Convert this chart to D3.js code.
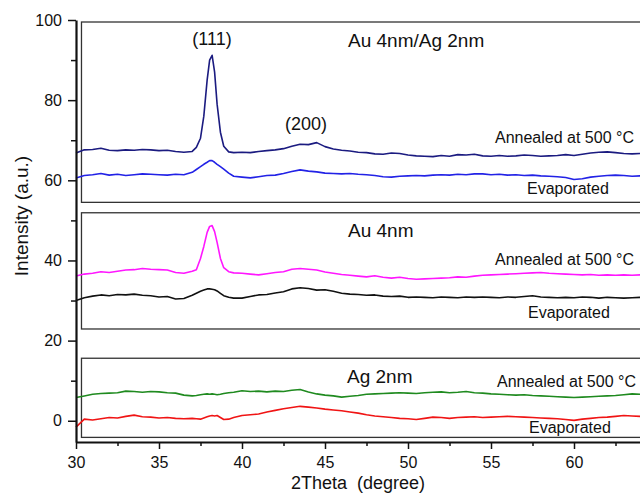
<html>
<head>
	<title>XRD</title>
	<meta charset="utf-8">
	<script src="https://d3js.org/d3.v7.min.js"></script>
	<style>
		body { margin: 0; background: #fff; }
		text { font-family: "Liberation Sans", Arial, sans-serif; fill: #111; }
	</style>
</head>
<body>
	<svg id="svg1" width="640" height="497"></svg>

	<script type="text/javascript">
		// 2Theta positions (degree), shared by all curves
		var theta = [30, 30.5, 31, 31.5, 32, 32.5, 33, 33.5, 34, 34.5, 35, 35.5, 36, 36.5, 37,
			37.25, 37.5, 37.7, 37.9, 38.05, 38.2, 38.35, 38.5, 38.7, 38.9, 39.2, 39.5,
			40, 40.5, 41, 41.5, 42, 42.5, 43, 43.5, 44, 44.5, 45, 45.5, 46, 46.5, 47, 47.5,
			48, 48.5, 49, 49.5, 50, 50.5, 51, 51.5, 52, 52.5, 53, 53.5, 54, 54.5, 55, 55.5,
			56, 56.5, 57, 57.5, 58, 58.5, 59, 59.5, 60, 60.5, 61, 61.5, 62, 62.5, 63, 63.5, 64]

		// Au 4nm/Ag 2nm
		var auagAnnealed = [66.8, 67.6, 67.7, 68.0, 67.5, 67.4, 67.6, 67.5, 67.7, 67.6, 67.4, 67.5, 67.2, 67.0, 67.2,
			68.2, 70.5, 76, 85, 90, 91.2, 87, 79, 72, 68.5, 67.1, 66.9,
			67.0, 66.9, 67.2, 67.4, 67.6, 67.9, 68.5, 69.0, 68.9, 69.4, 68.4, 67.8, 67.5, 67.3, 67.0, 66.9,
			66.6, 66.5, 66.8, 66.7, 66.3, 66.1, 66.0, 65.9, 66.2, 66.0, 66.4, 66.3, 66.5, 66.1, 66.0, 66.2,
			66.0, 66.1, 66.3, 66.2, 66.0, 66.1, 66.2, 66.4, 66.2, 66.5, 66.8, 67.0, 67.1, 66.9, 66.7, 66.6, 66.7]
		var auagEvap = [60.6, 61.2, 61.4, 61.7, 61.3, 61.5, 61.2, 61.4, 61.6, 61.5, 61.4, 61.3, 61.5, 61.4, 62.0,
			62.7, 63.4, 64.0, 64.5, 64.9, 64.9, 64.5, 64.0, 63.4, 62.8, 61.8, 61.0,
			60.8, 60.6, 60.9, 61.2, 61.3, 61.7, 62.2, 62.6, 62.3, 62.1, 61.8, 61.7, 61.6, 61.7, 61.5, 61.4,
			61.2, 60.9, 60.8, 61.0, 61.1, 61.2, 61.1, 61.3, 61.4, 61.3, 61.5, 61.4, 61.6, 61.6, 61.4, 61.5,
			61.3, 61.4, 61.2, 61.3, 61.1, 61.0, 60.9, 60.7, 60.2, 60.4, 60.8, 61.0, 61.2, 61.3, 61.2, 61.0, 61.1]

		// Au 4nm
		var auAnnealed = [36.1, 36.6, 36.8, 37.2, 37.0, 37.3, 37.6, 37.7, 38.0, 37.8, 37.7, 37.6, 37.0, 36.8, 37.3,
			37.7, 40.5, 43.5, 47, 48.5, 48.7, 47.2, 44.5, 40.5, 38.2, 37.2, 36.9,
			36.8, 36.6, 36.4, 36.7, 37.0, 37.2, 37.8, 38.0, 37.8, 37.6, 37.1, 36.8, 36.5, 36.3, 36.1, 35.9,
			36.2, 35.8, 35.6, 35.8, 35.5, 35.3, 35.4, 35.5, 35.6, 35.7, 35.9, 35.8, 36.1, 36.3, 36.4, 36.5,
			36.6, 36.7, 36.8, 36.9, 37.0, 36.8, 36.7, 36.6, 36.5, 36.4, 36.5, 36.3, 36.4, 36.3, 36.4, 36.3, 36.4]
		var auEvap = [30.0, 30.7, 31.1, 31.4, 31.2, 31.5, 31.4, 31.6, 31.3, 31.2, 30.9, 31.0, 30.4, 30.5, 31.3,
			31.8, 32.3, 32.6, 32.9, 32.9, 32.8, 32.7, 32.4, 31.8, 31.2, 30.8, 30.6,
			30.6, 31.0, 31.4, 31.5, 31.9, 32.2, 32.9, 33.2, 33.0, 32.6, 32.7, 32.3, 31.8, 31.6, 31.5, 31.3,
			31.4, 31.1, 31.0, 31.1, 30.8, 30.9, 30.8, 30.7, 30.9, 30.8, 30.7, 30.9, 30.8, 30.9, 30.8, 30.7,
			30.9, 30.8, 31.0, 31.2, 30.9, 30.8, 30.7, 30.8, 30.7, 30.9, 30.8, 30.6, 30.8, 30.7, 30.6, 30.7, 30.8]

		// Ag 2nm
		var agAnnealed = [5.8, 6.2, 6.6, 6.8, 6.9, 7.0, 7.4, 7.3, 7.1, 7.3, 7.2, 7.0, 6.9, 6.4, 6.2,
			6.3, 6.5, 6.6, 6.7, 6.6, 6.7, 6.6, 6.5, 6.6, 6.8, 7.0, 7.1,
			7.5, 7.3, 7.4, 7.2, 7.4, 7.3, 7.6, 7.8, 7.2, 6.7, 6.4, 6.2, 5.9, 6.1, 6.3, 6.6,
			6.7, 6.8, 6.9, 7.0, 6.9, 6.8, 7.0, 7.1, 7.2, 7.0, 7.1, 7.3, 7.0, 6.9, 6.7, 6.6,
			6.5, 6.4, 6.5, 6.3, 6.2, 6.1, 6.0, 5.9, 5.8, 5.9, 6.0, 6.1, 6.2, 6.3, 6.5, 6.7, 6.6]
		var agEvap = [-1.6, 0.4, 0.2, 0.5, 0.8, 0.7, 1.1, 1.4, 1.0, 0.9, 0.7, 0.8, 0.6, 0.5, 0.6,
			0.5, 0.4, 0.7, 1.0, 1.2, 1.3, 1.2, 1.3, 0.8, 0.3, 0.4, 0.8,
			1.3, 1.5, 1.7, 2.2, 2.6, 3.0, 3.3, 3.6, 3.4, 3.2, 2.9, 2.7, 2.5, 2.2, 1.9, 1.5,
			1.2, 1.0, 0.8, 0.6, 0.5, 0.3, 0.6, 0.9, 0.8, 0.6, 0.8, 0.9, 1.0, 0.8, 0.9, 1.0,
			1.1, 1.0, 0.9, 0.8, 0.7, 0.6, 0.5, 0.3, 0.1, 0.4, 0.6, 0.8, 0.9, 1.1, 1.3, 1.2, 1.1]

		var yTicks = [0, 20, 40, 60, 80, 100]
		var yMinor = [10, 30, 50, 70, 90]
		var xTicks = [30, 35, 40, 45, 50, 55, 60]
		var xMinor = [32.5, 37.5, 42.5, 47.5, 52.5, 57.5, 62.5]

		// panel frames: [top, bottom] in intensity units
		var frames = [[99.5, 54.5], [51.9, 22.9], [15.6, -4.15]]

		var curves = [
			{y: auagAnnealed, color: "#1b1b80"},
			{y: auagEvap, color: "#2222e6"},
			{y: auAnnealed, color: "#ff17ff"},
			{y: auEvap, color: "#111111"},
			{y: agAnnealed, color: "#1f8a1f"},
			{y: agEvap, color: "#f01414"}
		]

		var labels = [
			{t: "(111)", x: 212, y: 45, size: 18, anchor: "middle"},
			{t: "(200)", x: 306, y: 130, size: 18, anchor: "middle"},
			{t: "Au 4nm/Ag 2nm", x: 348, y: 47, size: 19, anchor: "start"},
			{t: "Au 4nm", x: 348, y: 237, size: 19, anchor: "start"},
			{t: "Ag 2nm", x: 347, y: 383, size: 19, anchor: "start"},
			{t: "Annealed at 500 °C", x: 495, y: 143, size: 16, anchor: "start"},
			{t: "Annealed at 500 °C", x: 495, y: 265, size: 16, anchor: "start"},
			{t: "Annealed at 500 °C", x: 497, y: 387, size: 16, anchor: "start"},
			{t: "Evaporated", x: 527, y: 194, size: 16, anchor: "start"},
			{t: "Evaporated", x: 528, y: 318, size: 16, anchor: "start"},
			{t: "Evaporated", x: 529, y: 433, size: 16, anchor: "start"}
		]

		var svg = d3.select("#svg1")
		var x = d3.scaleLinear().domain([30, 64]).range([76, 640.4])
		var y = d3.scaleLinear().domain([-5.3, 100]).range([442, 20])

		// frames
		svg.selectAll("rect.frame")
		  .data(frames)
		  .enter()
		  .append("rect")
			.attr("class", "frame")
			.attr("x", x(30.33))
			.attr("y", d => y(d[0]))
			.attr("width", x(65) - x(30.33))
			.attr("height", d => y(d[1]) - y(d[0]))
			.attr("fill", "none")
			.attr("stroke", "#333")
			.attr("stroke-width", 1.3)

		// curves
		var line = d3.line()
			.x((d, i) => x(theta[i]))
			.y(d => y(d))

		svg.selectAll("path.curve")
		  .data(curves)
		  .enter()
		  .append("path")
			.attr("class", "curve")
			.attr("d", d => line(d.y))
			.attr("fill", "none")
			.attr("stroke", d => d.color)
			.attr("stroke-width", 1.6)
			.attr("stroke-linejoin", "round")

		// axes
		var yAxis = svg.append("g")
			.attr("transform", "translate(76,0)")
			.call(d3.axisLeft(y).tickValues(yTicks).tickSize(8).tickSizeOuter(0).tickPadding(6))
		svg.append("g")
			.attr("transform", "translate(76,0)")
			.call(d3.axisLeft(y).tickValues(yMinor).tickSize(5).tickFormat("").tickSizeOuter(0))
			.select(".domain").remove()

		var xAxis = svg.append("g")
			.attr("transform", "translate(0,442)")
			.call(d3.axisBottom(x).tickValues(xTicks).tickSize(7).tickSizeOuter(0).tickPadding(8))
		svg.append("g")
			.attr("transform", "translate(0,442)")
			.call(d3.axisBottom(x).tickValues(xMinor).tickSize(4).tickFormat("").tickSizeOuter(0))
			.select(".domain").remove()

		svg.selectAll(".tick line").attr("stroke", "#111").attr("stroke-width", 1.5)
		svg.selectAll(".domain").attr("stroke", "#111").attr("stroke-width", 2.2)
		svg.selectAll(".tick text")
			.attr("font-size", 16)
			.attr("font-family", "Liberation Sans, Arial, sans-serif")
			.attr("fill", "#111")

		// axis titles
		svg.append("text")
			.attr("transform", "translate(28,216) rotate(-90)")
			.attr("text-anchor", "middle")
			.attr("font-size", 19)
			.text("Intensity (a.u.)")
		svg.append("text")
			.attr("x", 358)
			.attr("y", 489)
			.attr("text-anchor", "middle")
			.attr("font-size", 18)
			.attr("xml:space", "preserve")
			.style("white-space", "pre")
			.text("2Theta  (degree)")

		// annotations
		svg.selectAll("text.lab")
		  .data(labels)
		  .enter()
		  .append("text")
			.attr("class", "lab")
			.attr("x", d => d.x)
			.attr("y", d => d.y)
			.attr("font-size", d => d.size)
			.attr("text-anchor", d => d.anchor)
			.text(d => d.t)
	</script>
</body>
</html>
